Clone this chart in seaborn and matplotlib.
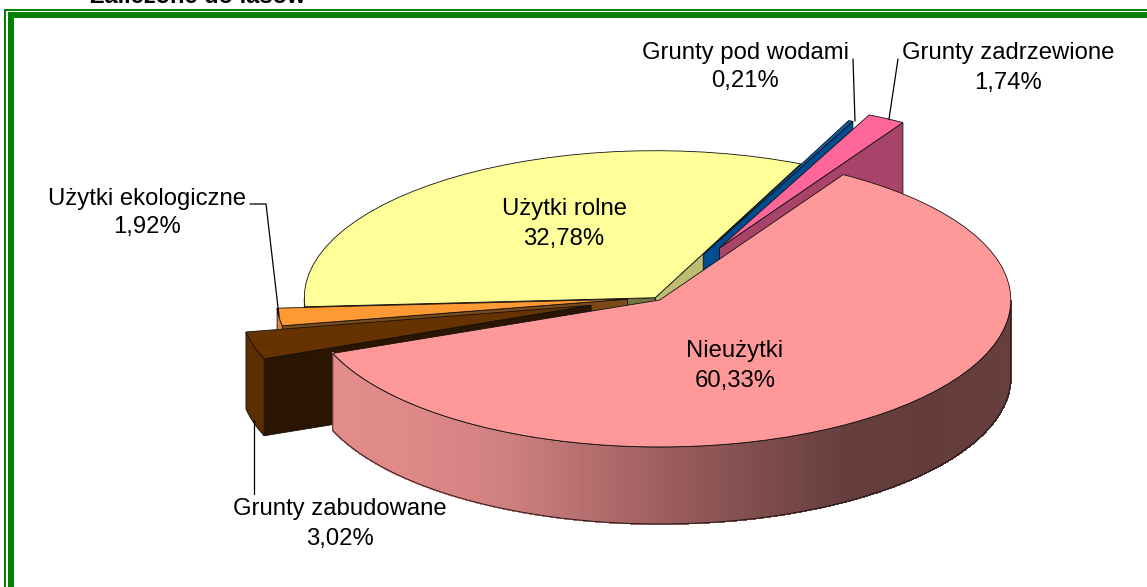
import numpy as np
import matplotlib
matplotlib.use("Agg")
import matplotlib.pyplot as plt
from matplotlib.patches import Polygon, Rectangle
from matplotlib.lines import Line2D
from matplotlib.collections import PolyCollection
import seaborn as sns

# ---- data ----
categories = ["Nieużytki", "Grunty zabudowane", "Użytki ekologiczne",
              "Użytki rolne", "Grunty pod wodami", "Grunty zadrzewione"]
values = [60.33, 3.02, 1.92, 32.78, 0.21, 1.74]
title_text = "Zaliczone do lasów"

# ---- style ----
explode = [0.02, 0.19, 0.08, 0.0, 0.325, 0.385]
top_colors = ["#FF9999", "#663300", "#FF9933", "#FFFF99", "#0A5CA8", "#FF6699"]
outer_colors = [None, "#5C2E00", "#E08A30", "#BDBD72", "#004C90", "#A8436A"]
radial_colors = ["#804D4D", "#2B1500", "#7A4A18", "#BDBD72", "#004C90", "#A8436A"]
radial_colors_left = {3: "#757542"}
draw_order = [3, 4, 5, 2, 1, 0]
gradient_stops = ["#E28C8C", "#DE8888", "#D08080", "#B56E6E", "#9A5C5C",
                  "#804D4D", "#673E3E", "#643C3C", "#683F3F"]

W, H = 1147, 587
CX, CY, RX, RY, DEPTH = 655.3, 297.7, 351.0, 147.0, 77.0

sns.set_theme(style="white")
plt.rcParams["font.family"] = ["Liberation Sans", "DejaVu Sans"]

fig = plt.figure(figsize=(W / 100, H / 100), dpi=100, facecolor="white")
ax = fig.add_axes([0, 0, 1, 1])

wedges, _ = ax.pie(values, explode=explode, colors=top_colors, startangle=58.5,
                   counterclock=False,
                   wedgeprops=dict(edgecolor="#111111", linewidth=0.6))
ax.set_aspect("auto")
ax.set_xlim(-CX / RX, (W - CX) / RX)
ax.set_ylim(-(H - CY) / RY, CY / RY)
ax.axis("off")

h = DEPTH / RY
palette = sns.blend_palette(gradient_stops, n_colors=256)
LW = 0.6
EC = "#111111"


def arc(w, t):
    a = np.deg2rad(t)
    return w.center[0] + w.r * np.cos(a), w.center[1] + w.r * np.sin(a)


for rank, i in enumerate(draw_order):
    w = wedges[i]
    z = 2 + rank
    w.set_zorder(z + 0.5)
    # radial side faces, computed from the wedge angles
    for edge, visible in ((w.theta1, np.cos(np.deg2rad(w.theta1)) > 0),
                          (w.theta2, np.cos(np.deg2rad(w.theta2)) < 0)):
        if not visible:
            continue
        x, y = arc(w, edge)
        cx, cy = w.center
        col = radial_colors[i]
        if edge == w.theta2 and i in radial_colors_left:
            col = radial_colors_left[i]
        ax.add_patch(Polygon([(cx, cy), (x, y), (x, y - h), (cx, cy - h)],
                             closed=True, facecolor=col, edgecolor=EC,
                             linewidth=LW, zorder=z))
    # outer rim
    t = np.linspace(w.theta1, w.theta2, 400)
    t = t[np.sin(np.deg2rad(t)) < 0]
    if t.size < 2:
        continue
    x, y = arc(w, t)
    if outer_colors[i] is None:
        quads = [[(x[k], y[k]), (x[k + 1], y[k + 1]),
                  (x[k + 1], y[k + 1] - h), (x[k], y[k] - h)]
                 for k in range(len(x) - 1)]
        fr = (x[:-1] - x.min()) / (x.max() - x.min())
        cols = [palette[int(f * 255)] for f in fr]
        ax.add_collection(PolyCollection(quads, facecolors=cols, edgecolors=cols,
                                         linewidths=0.8, antialiaseds=False, zorder=z))
        fc = "none"
    else:
        fc = outer_colors[i]
    ax.add_patch(Polygon(np.r_[np.c_[x, y], np.c_[x[::-1], y[::-1] - h]],
                         closed=True, facecolor=fc, edgecolor=EC,
                         linewidth=LW, zorder=z + 0.1))


def px(x, y):
    return x / W, 1 - y / H


def pct(v):
    return f"{v:.2f}".replace(".", ",") + "%"


# labels (name line, value line)
label_pos = {0: (735, 351.5), 1: (340, 509.5), 2: (147, 198.5),
             3: (564, 209.5), 4: (745, 52.5), 5: (1008, 53.5)}
LINE_GAP = 29
FS = 17.2
for i, (lx, ly) in label_pos.items():
    fig.text(*px(lx, ly), categories[i], ha="center", va="center", fontsize=FS,
             color="black", zorder=20)
    fig.text(*px(lx, ly + LINE_GAP), pct(values[i]), ha="center", va="center",
             fontsize=FS, color="black", zorder=20)

# leader lines
leaders = [[(853, 59), (855, 121)],
           [(898, 59), (889, 119)],
           [(250, 204), (266, 204), (279, 316)],
           [(254, 420), (254, 494)]]
for pts in leaders:
    xs, ys = zip(*[px(*p) for p in pts])
    fig.add_artist(Line2D(xs, ys, color="black", linewidth=0.9, zorder=15))

# green double frame (top and left only)
for x0, y0, x1, y1 in [(4, 9, W, 11), (8, 12, W, 18), (4, 9, 6, H), (8, 12, 14, H)]:
    fig.add_artist(Rectangle(px(x0, y1), (x1 - x0) / W, (y1 - y0) / H,
                             transform=fig.transFigure, facecolor="#008000",
                             edgecolor="none", zorder=18))

# cropped heading above the frame
fig.text(*px(90, 3), title_text, ha="left", va="baseline", fontsize=17,
         fontweight="bold", color="black")

sns.despine(ax=ax, left=True, bottom=True)
fig.savefig("out.png", dpi=100, facecolor="white")
